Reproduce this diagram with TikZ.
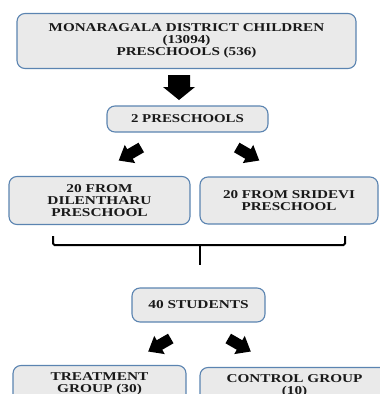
\documentclass[tikz,border=0pt]{standalone}
\usepackage{fontspec}
\setmainfont{Liberation Serif}
\usepackage{graphicx}
\definecolor{bd}{HTML}{5B84B1}
\definecolor{bg}{HTML}{EAEAEA}
\newcommand\sx[2][1.26]{\scalebox{#1}[1]{#2}}
\begin{document}
\begin{tikzpicture}[x=1pt,y=-1pt,
  box/.style={draw=bd, line width=1.1pt, fill=bg, rounded corners=8pt, align=center,
    inner sep=0pt, font=\bfseries\fontsize{12}{12}\selectfont, text=black!90},
  blk/.style={fill=black},
  brc/.style={draw=black, line width=2pt, rounded corners=1.5pt}]
\useasboundingbox (0,0) rectangle (380,394);
\clip (0,0) rectangle (380,394);
\node[box, minimum width=339pt, minimum height=55pt] (top) at (186.5,41)
  {\sx{MONARAGALA DISTRICT CHILDREN}\\\sx{(13094)}\\\sx{PRESCHOOLS (536)}};
\node[box, minimum width=161pt, minimum height=26pt] (pre) at (187.5,119) {\sx[1.24]{2 PRESCHOOLS}};
\node[box, minimum width=181pt, minimum height=48pt] (dil) at (99.5,200.5)
  {\sx[1.28]{20 FROM}\\\sx[1.28]{DILENTHARU}\\\sx[1.28]{PRESCHOOL}};
\node[box, minimum width=178pt, minimum height=47pt] (sri) at (289,200.5)
  {\sx{20 FROM SRIDEVI}\\\sx{PRESCHOOL}};
\node[box, minimum width=133pt, minimum height=34pt] (stud) at (198.5,305) {\sx[1.28]{40 STUDENTS}};
\node[box, minimum width=173pt, minimum height=36pt] (treat) at (99.5,383.5)
  {\sx[1.28]{TREATMENT}\\\sx[1.28]{GROUP (30)}};
\node[box, minimum width=189pt, minimum height=36pt] (ctrl) at (294.5,385.5)
  {\sx[1.27]{CONTROL GROUP}\\\sx[1.27]{(10)}};
% big down arrow
\fill[blk] (168,75) -- (190,75) -- (190,87) -- (195,87) -- (179,100) -- (163,87) -- (168,87) -- cycle;
% diagonal block arrows
\foreach \cx/\cy/\a in {130/154/210, 248/154/-30, 159.5/345/210, 239.5/345/-30}{
  \begin{scope}[shift={(\cx,\cy)}, rotate=\a]
    \fill[blk] (-13,-5.5) -- (0,-5.5) -- (0,-10.5) -- (13,0) -- (0,10.5) -- (0,5.5) -- (-13,5.5) -- cycle;
  \end{scope}
}
% bracket
\draw[brc] (53,236) -- (53,245) -- (345,245) -- (345,236);
\draw[draw=black, line width=2pt] (200,245) -- (200,265);
\end{tikzpicture}
\end{document}
